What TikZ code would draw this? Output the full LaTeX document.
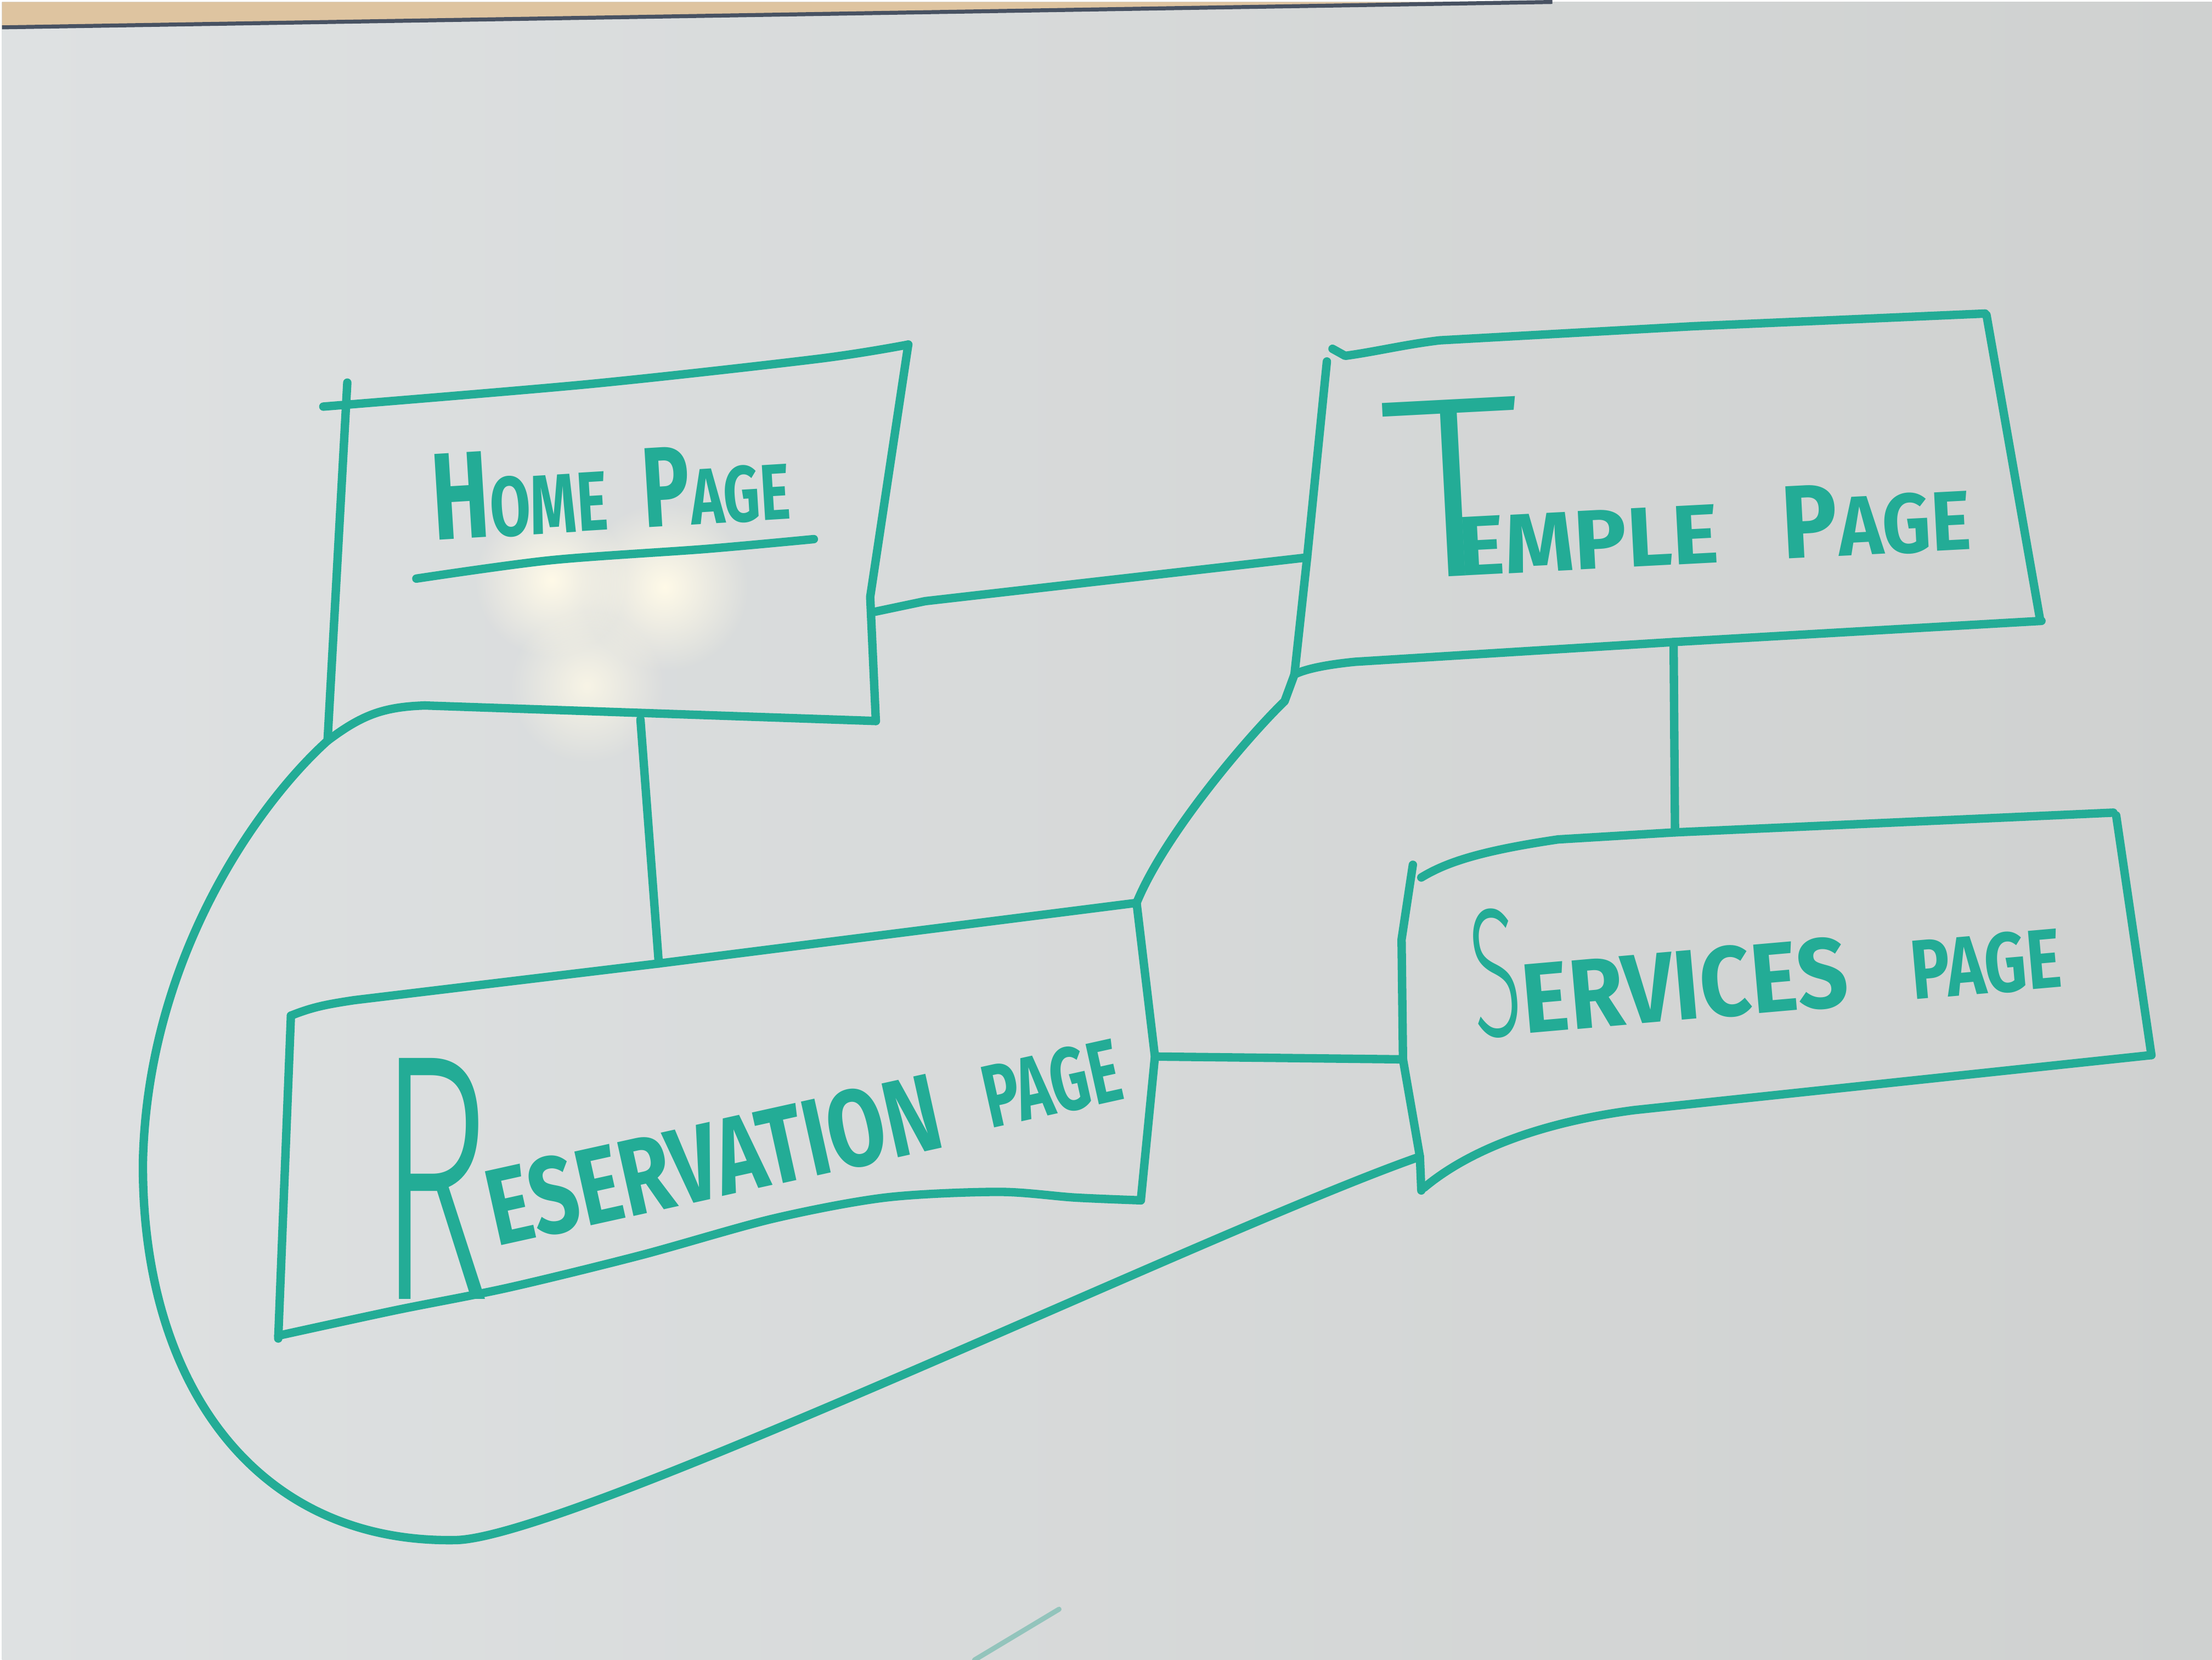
\documentclass[tikz,border=0pt]{standalone}
\usepackage{fontspec}
\newfontfamily\boardfont{Fira Sans}
\newfontfamily\thinfont{Fira Sans Light}
\usetikzlibrary{fadings}
\definecolor{marker}{RGB}{35,172,150}
\definecolor{boardleft}{RGB}{222,225,226}
\definecolor{boardright}{RGB}{207,209,208}
\definecolor{framewood}{RGB}{222,196,160}
\definecolor{frameedge}{RGB}{72,82,98}
\definecolor{glare}{RGB}{255,250,232}
\tikzfading[name=glow,inner color=transparent!0,outer color=transparent!100]
\newcommand{\hand}[3]{{\fontsize{#1}{#1}\selectfont\addfontfeature{FakeStretch=#2}#3}}
\newcommand{\bighand}[3]{{\thinfont\mdseries\fontsize{#1}{#1}\selectfont\addfontfeature{FakeStretch=#2}#3}}

\begin{document}
\begin{tikzpicture}[x=1mm,y=-1mm,
  pen/.style={draw=marker,line width=1.7pt,line cap=round,line join=round},
  label/.style={text=marker,font=\boardfont\bfseries,inner sep=0pt,anchor=base west}]
\shade[left color=boardleft,right color=boardright] (0,0) rectangle (156.8,117.6);
\fill[framewood] (0,0) -- (110,0) -- (0,1.8) -- cycle;
\draw[frameedge,line width=0.8pt] (0,1.8) -- (110,0);
\fill[glare,path fading=glow] (47.0,41.5) circle (6);
\fill[glare,path fading=glow] (39.0,41.0) circle (5.5);
\fill[glare,path fading=glow,opacity=0.8] (41.5,48.5) circle (5.5);
\useasboundingbox (0,0) rectangle (156.8,117.6);

\coordinate (home-sw) at (23.1,52.4);
\coordinate (home-e) at (61.7,43.3);
\coordinate (home-s) at (45.3,50.9);
\coordinate (temple-w) at (92.6,39.4);
\coordinate (temple-s) at (118.6,45.4);
\coordinate (temple-sw) at (91.7,47.7);
\coordinate (res-n) at (46.6,68.2);
\coordinate (res-ne) at (80.5,63.9);
\coordinate (res-e) at (81.8,74.8);
\coordinate (serv-n) at (118.7,58.9);
\coordinate (serv-w) at (99.4,75.0);
\coordinate (serv-sw) at (100.6,81.9);

% home page
\draw[pen] plot[smooth] coordinates {(22.8,28.7) (41.7,27.1) (58.0,25.3) (64.3,24.3)};
\draw[pen] (24.5,27.0) -- (home-sw);
\draw[pen] (64.3,24.3) -- (61.6,42.2) -- (62.0,51.0);
\draw[pen] (home-sw) .. controls (25.5,50.6) and (27.0,50.0) .. (30.0,49.9) -- (62.0,51.0);
\draw[pen] plot[smooth] coordinates {(29.4,40.9) (38.9,39.6) (49.9,38.8) (57.6,38.1)};
\node[label,rotate=3.5] (home) at (30.6,38.2)
  {\hand{25}{0.7}{H}\hand{17}{0.7}{OME}\hspace{2.5mm}\hand{23}{0.7}{P}\hand{16}{0.72}{AGE}};

% temple page
\draw[pen] (94.4,24.6) -- (95.3,25.1) .. controls (97.5,24.8) and (99.5,24.3) .. (102.0,24.0) -- (120.0,23.0) -- (140.7,22.1);
\draw[pen] (140.8,22.2) -- (144.6,43.8);
\draw[pen] (144.7,43.9) -- (temple-s) -- (96.0,46.8) .. controls (94.0,47.0) and (92.5,47.3) .. (temple-sw);
\draw[pen] (94.0,25.5) -- (temple-w) -- (temple-sw);
\node[label,rotate=3] (temple) at (98.2,41.0)
  {\bighand{52}{1.1}{T}\kern-4.8mm\hand{17}{1.05}{EMPLE}\hspace{4.5mm}\hand{21}{0.9}{P}\hand{17}{0.9}{AGE}};

% reservation page
\draw[pen] (20.5,71.9) .. controls (22.0,71.3) and (23.0,71.1) .. (25.0,70.8) -- (res-n) -- (res-ne);
\draw[pen] (res-ne) -- (res-e) -- (80.8,85.0);
\draw[pen] plot[smooth,tension=0.5] coordinates {(80.8,85.0) (76.1,84.8) (70.7,84.4) (62.7,84.8) (54.7,86.3) (45.3,88.9) (35.9,91.2) (27.9,92.8) (19.6,94.6)};
\draw[pen] (20.5,71.9) -- (19.6,94.8);
\node[label] (reservation) at (26.6,92.0) {\bighand{71}{0.55}{R}};
\node[label,rotate=12.5] (reservation-rest) at (35.0,88.3)
  {\hand{22}{0.77}{ESERVATION}\hspace{3.3mm}\raisebox{0.6mm}{\hand{18}{0.68}{PAGE}}};

% services page
\draw[pen] (100.7,62.1) .. controls (102.5,61.0) and (105.0,60.2) .. (110.4,59.4) -- (serv-n) -- (149.8,57.5);
\draw[pen] (150.0,57.7) -- (152.5,74.7);
\draw[pen] (152.5,74.7) -- (115.8,78.6) .. controls (109.0,79.5) and (104.0,81.5) .. (100.9,84.1);
\draw[pen] (100.1,61.2) -- (99.3,66.5) -- (serv-w) -- (serv-sw) -- (100.7,84.3);
\node[label,rotate=5] (services) at (104.5,73.5)
  {\bighand{37}{0.5}{S}\hand{20}{0.9}{ERVICES}\hspace{4.5mm}\hand{17}{0.78}{PAGE}};

% links
\draw[pen] (home-e) -- (65.5,42.5) -- (temple-w);
\draw[pen] (home-s) -- (res-n);
\draw[pen] (temple-s) -- (serv-n);
\draw[pen] (res-e) -- (serv-w);
\draw[pen] (temple-sw) -- (91.0,49.6) .. controls (88.5,52.0) and (82.5,59.0) .. (res-ne);
\draw[pen] (home-sw) .. controls (18.0,57.0) and (10.3,68.0) .. (10.0,82.3)
  .. controls (9.9,98.0) and (18.0,109.3) .. (32.1,109.1)
  .. controls (40.0,109.1) and (86.0,87.0) .. (serv-sw);

\draw[pen,draw=marker!35!boardright,line width=1pt] (69.0,117.6) -- (75.0,114.0);
\end{tikzpicture}
\end{document}
